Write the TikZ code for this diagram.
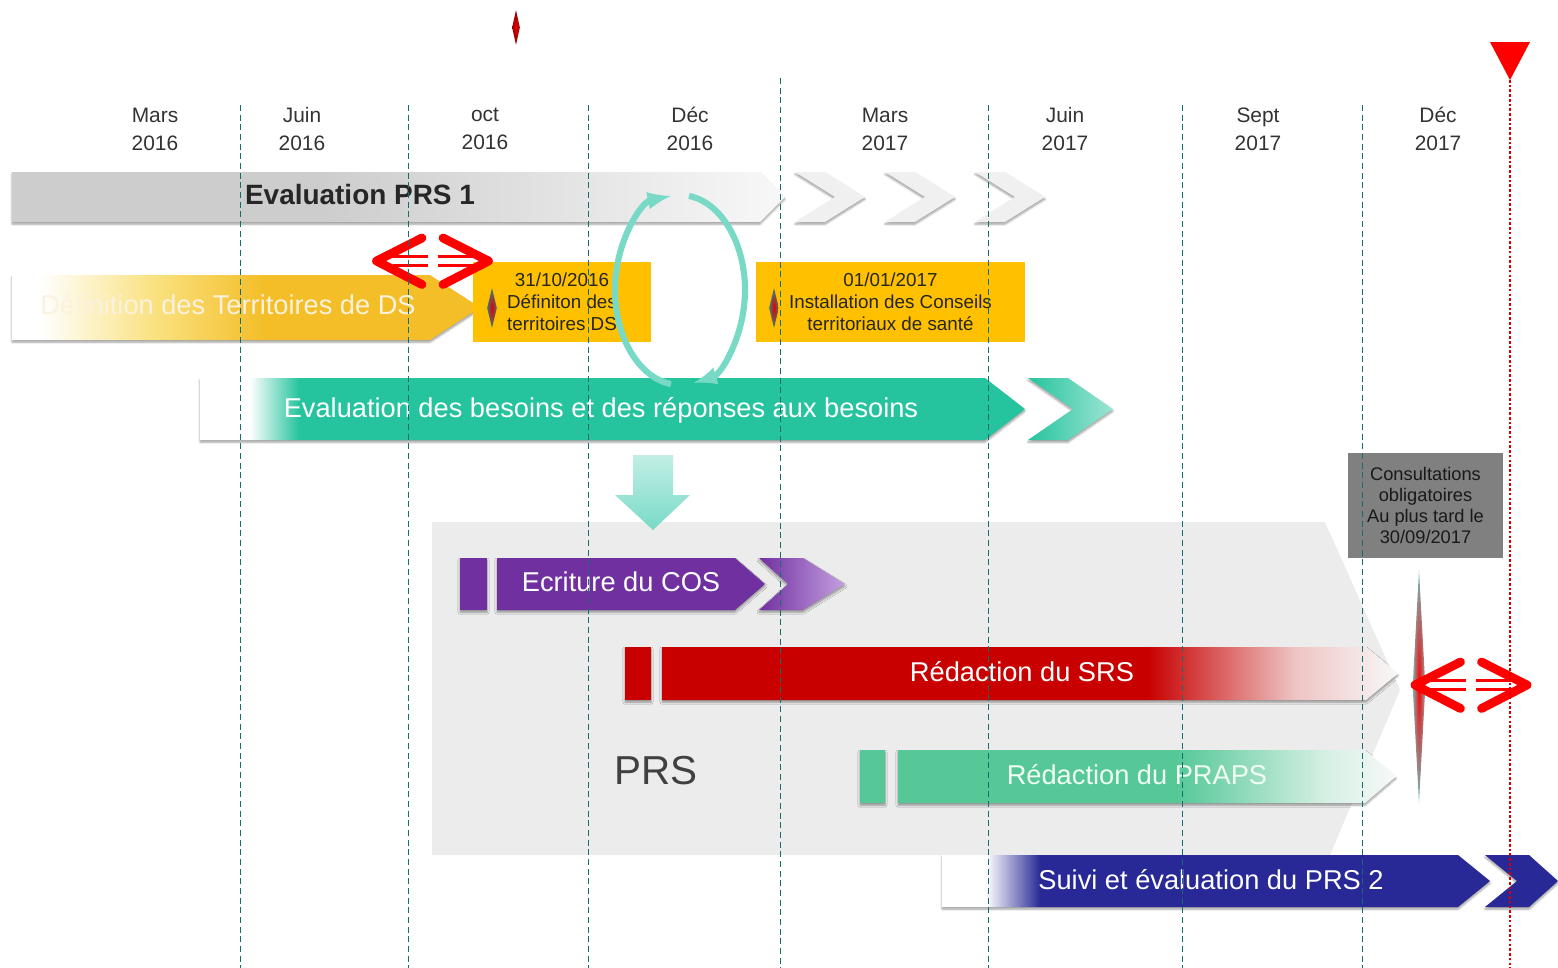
\documentclass[tikz,border=0pt]{standalone}
\usepackage{fontspec}
\setmainfont{Liberation Sans}
\usepackage{xcolor}
\usetikzlibrary{shadows.blur}
\usetikzlibrary{arrows}
\usetikzlibrary{shapes.geometric}

\definecolor{barGray}{RGB}{205,205,205}
\definecolor{fadeEnd}{RGB}{248,248,248}
\definecolor{ddGold}{RGB}{243,190,40}
\definecolor{ddPale}{RGB}{250,226,130}
\definecolor{ddText}{RGB}{250,242,222}
\definecolor{boxOrange}{RGB}{255,192,0}
\definecolor{besTeal}{RGB}{38,196,158}
\definecolor{cycTeal}{RGB}{120,218,198}
\definecolor{cosPurple}{RGB}{112,48,160}
\definecolor{cosLilac}{RGB}{196,160,224}
\definecolor{srsRed}{RGB}{200,0,0}
\definecolor{srsPink}{RGB}{238,196,196}
\definecolor{prapsGreen}{RGB}{86,200,152}
\definecolor{prapsPale}{RGB}{214,240,228}
\definecolor{suiviBlue}{RGB}{40,40,150}
\definecolor{prsGray}{RGB}{236,236,236}
\definecolor{consGray}{RGB}{128,128,128}
\definecolor{lineTeal}{RGB}{20,110,110}

\pgfdeclarehorizontalshading{evalfade}{100bp}{color(0bp)=(barGray); color(45bp)=(barGray); color(75bp)=(fadeEnd); color(100bp)=(fadeEnd)}
\pgfdeclarehorizontalshading{ddfade}{100bp}{color(0bp)=(white); color(28bp)=(white); color(40bp)=(ddPale); color(52bp)=(ddGold); color(100bp)=(ddGold)}
\pgfdeclarehorizontalshading{besfade}{100bp}{color(0bp)=(white); color(28bp)=(white); color(31bp)=(besTeal); color(100bp)=(besTeal)}
\pgfdeclarehorizontalshading{srsfade}{100bp}{color(0bp)=(srsRed); color(58bp)=(srsRed); color(68bp)=(srsPink); color(75bp)=(fadeEnd); color(100bp)=(fadeEnd)}
\pgfdeclarehorizontalshading{prapsfade}{100bp}{color(0bp)=(prapsGreen); color(53bp)=(prapsGreen); color(68bp)=(prapsPale); color(75bp)=(fadeEnd); color(100bp)=(fadeEnd)}
\pgfdeclarehorizontalshading{suivifade}{100bp}{color(0bp)=(white); color(29bp)=(white); color(34bp)=(suiviBlue); color(100bp)=(suiviBlue)}

\begin{document}
\begin{tikzpicture}[]
	%\draw[help lines] (0,-20) grid (32,0);
	\useasboundingbox (0,0) rectangle (31.16,-19.36);

	\tikzstyle{mlabel} = [align=center, text=black!80, font=\fontsize{11.9}{15.9}\selectfont]
	\tikzstyle{vline} = [lineTeal, dash pattern=on 3.5pt off 2pt, line width=0.45pt]
	\tikzstyle{reddot} = [red!85!black, dash pattern=on 1.5pt off 1.2pt, line width=1.6pt]
	\tikzstyle{btext} = [text=white, font=\fontsize{15.5}{18}\selectfont]
	\tikzstyle{obox} = [fill=boxOrange, minimum height=1.6cm, inner sep=0pt, align=center, text=black!85, font=\fontsize{10.7}{12.5}\selectfont]
	\tikzstyle{mstone} = [diamond, inner sep=0pt, minimum width=0.2cm, minimum height=0.8cm, inner color=red!90!black, outer color=teal!60!gray]
	\tikzstyle{bshadow} = [blur shadow={shadow blur steps=6, shadow xshift=0pt, shadow yshift=-1.2pt, shadow blur radius=1.2pt}]
	\tikzstyle{cyc} = [->, >=latex, cycTeal, line width=3.5pt]
	\tikzstyle{dblarm} = [red, line width=5pt, line cap=round, line join=round]
	\tikzstyle{dblbar} = [red, line width=1.6pt]

	% PRS area
	\fill[prsGray] (8.64,-10.44) -- (26.5,-10.44) -- (28.0,-13.8) -- (26.6,-17.1) -- (8.64,-17.1) -- cycle;

	% Evaluation PRS 1
	\shade[shading=evalfade, bshadow] (0.24,-3.44) -- (15.2,-3.44) -- (15.7,-3.94) -- (15.2,-4.44) -- (0.24,-4.44) -- cycle;
	\fill[gray!12, bshadow] (15.9,-3.44) -- (16.5,-3.44) -- (17.3,-3.94) -- (16.5,-4.44) -- (15.9,-4.44) -- (16.7,-3.94) -- cycle;
	\fill[gray!12, bshadow] (17.7,-3.44) -- (18.3,-3.44) -- (19.1,-3.94) -- (18.3,-4.44) -- (17.7,-4.44) -- (18.5,-3.94) -- cycle;
	\fill[gray!12, bshadow] (19.5,-3.44) -- (20.1,-3.44) -- (20.9,-3.94) -- (20.1,-4.44) -- (19.5,-4.44) -- (20.3,-3.94) -- cycle;
	\node[font=\bfseries\fontsize{15.9}{18}\selectfont, text=black!85] (evalprs) at (7.2,-3.9) {Evaluation PRS 1};

	% Definition des territoires
	\shade[shading=ddfade, bshadow] (0.24,-5.5) -- (8.6,-5.5) -- (9.6,-6.15) -- (8.6,-6.8) -- (0.24,-6.8) -- cycle;
	\node[btext, text=ddText] (defds) at (4.56,-6.1) {Définition des Territoires de DS};

	\node[obox, minimum width=3.56cm] (box1) at (11.24,-6.04) {31/10/2016\\Définiton des\\territoires DS};
	\node[obox, minimum width=5.38cm] (box2) at (17.81,-6.04) {01/01/2017\\Installation des Conseils\\territoriaux de santé};
	\node[mstone] (ms1) at (9.84,-6.16) {};
	\node[mstone] (ms2) at (15.48,-6.16) {};
	\node[mstone, minimum width=0.16cm, minimum height=0.7cm, outer color=red!55!black] (ms0) at (10.32,-0.55) {};

	\begin{scope}[shift={(8.65,-5.22)}]
		\draw[dblarm] (-0.21,0.46) -- (-1.12,0) -- (-0.21,-0.47);
		\draw[dblarm] (0.21,0.46) -- (1.12,0) -- (0.21,-0.47);
		\draw[dblbar] (-0.8,0.09) -- (-0.1,0.09);
		\draw[dblbar] (-0.8,-0.09) -- (-0.1,-0.09);
		\draw[dblbar] (0.1,0.09) -- (0.8,0.09);
		\draw[dblbar] (0.1,-0.09) -- (0.8,-0.09);
	\end{scope}

	% Evaluation des besoins
	\shade[shading=besfade, bshadow] (4.0,-7.56) -- (19.7,-7.56) -- (20.5,-8.18) -- (19.7,-8.8) -- (4.0,-8.8) -- cycle;
	\shade[left color=besTeal, right color=besTeal!45!white, bshadow] (20.56,-7.56) -- (21.36,-7.56) -- (22.26,-8.18) -- (21.36,-8.8) -- (20.56,-8.8) -- (21.46,-8.18) -- cycle;
	\node[btext] (besoins) at (12.02,-8.2) {Evaluation des besoins et des réponses aux besoins};

	\draw[cyc] (13.6,-5.8) ++(262:1.3 and 1.9) arc[start angle=262, end angle=98, x radius=1.3cm, y radius=1.9cm];
	\draw[cyc] (13.6,-5.8) ++(82:1.3 and 1.9) arc[start angle=82, end angle=-78, x radius=1.3cm, y radius=1.9cm];

	\shade[top color=cycTeal!45!white, bottom color=cycTeal] (12.66,-9.1) -- (13.46,-9.1) -- (13.46,-9.9) -- (13.8,-9.9) -- (13.06,-10.6) -- (12.3,-9.9) -- (12.66,-9.9) -- cycle;

	% Ecriture du COS
	\fill[cosPurple, bshadow] (9.2,-11.16) rectangle (9.74,-12.2);
	\fill[cosPurple, bshadow] (9.94,-11.16) -- (14.7,-11.16) -- (15.3,-11.68) -- (14.7,-12.2) -- (9.94,-12.2) -- cycle;
	\shade[left color=cosPurple, right color=cosLilac, bshadow] (15.18,-11.16) -- (16.06,-11.16) -- (16.9,-11.68) -- (16.06,-12.2) -- (15.18,-12.2) -- (15.76,-11.68) -- cycle;
	\node[btext] (cos) at (12.42,-11.64) {Ecriture du COS};

	% Redaction du SRS
	\fill[srsRed, bshadow] (12.5,-12.94) rectangle (13.02,-14.0);
	\shade[shading=srsfade, bshadow] (13.24,-12.94) -- (27.32,-12.94) -- (27.96,-13.47) -- (27.32,-14.0) -- (13.24,-14.0) -- cycle;
	\node[btext] (srs) at (20.44,-13.44) {Rédaction du SRS};

	% Redaction du PRAPS
	\fill[prapsGreen, bshadow] (17.2,-15.0) rectangle (17.7,-16.06);
	\shade[shading=prapsfade, bshadow] (17.96,-15.0) -- (27.3,-15.0) -- (27.92,-15.53) -- (27.3,-16.06) -- (17.96,-16.06) -- cycle;
	\node[btext, text=white!94!green] (praps) at (22.74,-15.5) {Rédaction du PRAPS};

	\node[font=\fontsize{23}{26}\selectfont, text=black!75] (prs) at (13.12,-15.42) {PRS};

	% Consultations
	\node[fill=consGray, minimum width=3.1cm, minimum height=2.1cm, inner sep=0pt, align=center, text=black!90, font=\fontsize{10.4}{11.9}\selectfont] (cons) at (28.51,-10.11) {Consultations\\obligatoires\\Au plus tard le\\30/09/2017};
	\node[mstone, minimum width=0.26cm, minimum height=4.66cm, inner color=red, outer color=teal!55] (ms3) at (28.38,-13.73) {};

	\begin{scope}[shift={(29.42,-13.7)}]
		\draw[dblarm] (-0.21,0.46) -- (-1.12,0) -- (-0.21,-0.47);
		\draw[dblarm] (0.21,0.46) -- (1.12,0) -- (0.21,-0.47);
		\draw[dblbar] (-0.8,0.09) -- (-0.1,0.09);
		\draw[dblbar] (-0.8,-0.09) -- (-0.1,-0.09);
		\draw[dblbar] (0.1,0.09) -- (0.8,0.09);
		\draw[dblbar] (0.1,-0.09) -- (0.8,-0.09);
	\end{scope}

	% Suivi et evaluation
	\shade[shading=suivifade, bshadow] (18.84,-17.1) -- (29.16,-17.1) -- (29.8,-17.62) -- (29.16,-18.14) -- (18.84,-18.14) -- cycle;
	\fill[suiviBlue, bshadow] (29.7,-17.1) -- (30.58,-17.1) -- (31.16,-17.62) -- (30.58,-18.14) -- (29.7,-18.14) -- (30.34,-17.62) -- cycle;
	\node[btext] (suivi) at (24.22,-17.6) {Suivi et évaluation du PRS 2};

	% months
	\node[mlabel] (mar16) at (3.1,-2.58) {Mars\\2016};
	\node[mlabel] (jun16) at (6.04,-2.58) {Juin\\2016};
	\node[mlabel] (oct16) at (9.7,-2.58) {oct\\2016};
	\node[mlabel] (dec16) at (13.8,-2.58) {Déc\\2016};
	\node[mlabel] (mar17) at (17.7,-2.58) {Mars\\2017};
	\node[mlabel] (jun17) at (21.3,-2.58) {Juin\\2017};
	\node[mlabel] (sep17) at (25.16,-2.58) {Sept\\2017};
	\node[mlabel] (dec17) at (28.76,-2.58) {Déc\\2017};

	\draw[vline] (4.8,-2.1) -- (4.8,-19.36);
	\draw[vline] (8.16,-2.1) -- (8.16,-19.36);
	\draw[vline] (11.76,-2.1) -- (11.76,-19.36);
	\draw[vline] (15.6,-1.56) -- (15.6,-19.36);
	\draw[vline] (19.76,-2.1) -- (19.76,-19.36);
	\draw[vline] (23.64,-2.1) -- (23.64,-19.36);
	\draw[vline] (27.24,-2.1) -- (27.24,-19.36);

	% deadline
	\coordinate (dl) at (30.2,-1.6);
	\coordinate (dlend) at (30.2,-19.36);
	\draw[reddot] (dl) -- (dlend);
	\fill[red] (29.8,-0.84) -- (30.6,-0.84) -- (dl) -- cycle;

\end{tikzpicture}
\end{document}
